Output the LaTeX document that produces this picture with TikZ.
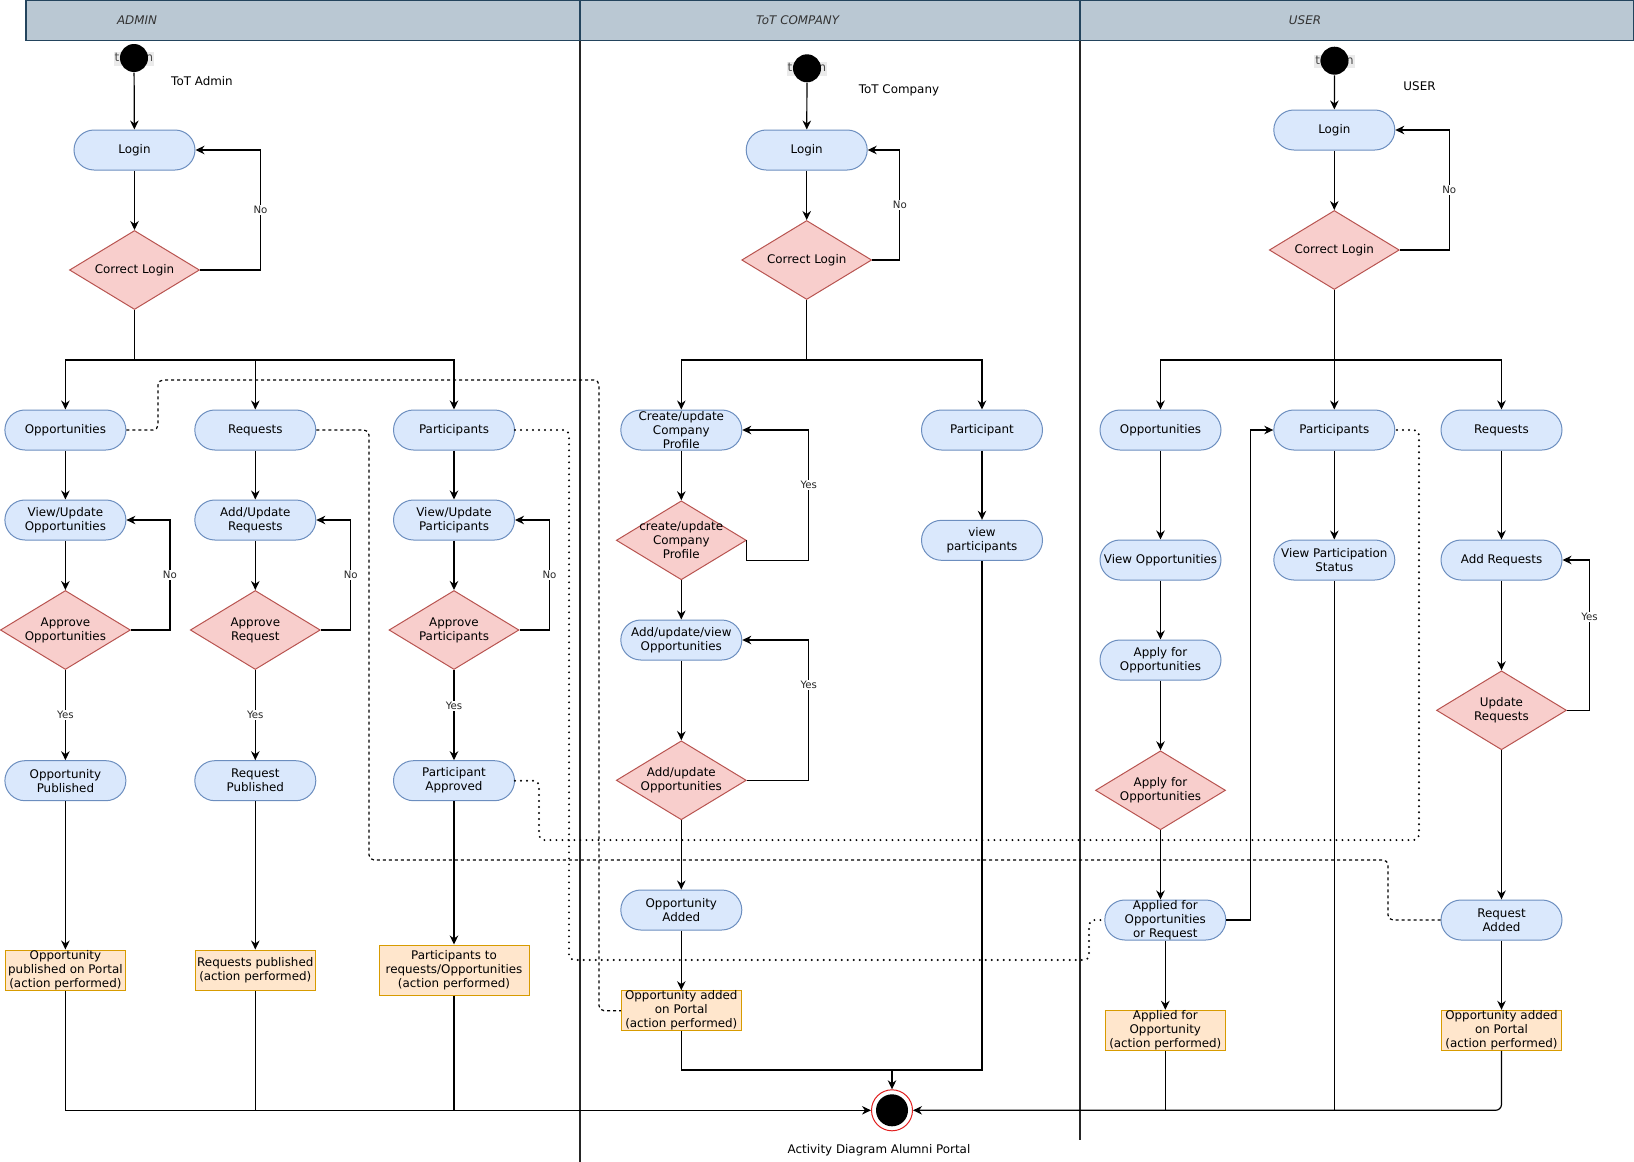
\documentclass[tikz,border=0pt]{standalone}
\usepackage{fontspec}
\setmainfont{DejaVu Sans}
\usepackage{tikz}
\usetikzlibrary{arrows.meta,shapes.geometric}
\definecolor{pillfill}{RGB}{218,232,252}
\definecolor{pilledge}{RGB}{108,142,191}
\definecolor{decfill}{RGB}{248,206,204}
\definecolor{decedge}{RGB}{184,84,80}
\definecolor{outfill}{RGB}{255,230,204}
\definecolor{outedge}{RGB}{215,155,0}
\definecolor{headfill}{RGB}{186,200,211}
\definecolor{headedge}{RGB}{35,68,93}
\definecolor{endred}{RGB}{225,30,30}
\newcommand{\flowtext}{\fontsize{11.9pt}{14pt}\selectfont}
\newcommand{\guardtext}{\fontsize{10.2pt}{12pt}\selectfont}

\begin{document}
\begin{tikzpicture}[x=1pt, y=-1pt, >={Stealth[length=9pt,width=8.5pt]}, line width=1.2pt,
    pill/.style={rectangle, rounded corners=20pt, draw=pilledge, fill=pillfill, line width=1pt,
      minimum width=121pt, minimum height=40pt, inner sep=0pt, align=center, font=\flowtext},
    decision/.style={diamond, draw=decedge, fill=decfill, line width=1pt,
      minimum width=130pt, minimum height=79pt, inner sep=0pt},
    dtext/.style={font=\flowtext, align=center, inner sep=0pt},
    outcome/.style={rectangle, draw=outedge, fill=outfill, minimum width=120pt, line width=1pt,
      minimum height=40pt, inner sep=0pt, align=center, font=\flowtext},
    initial/.style={circle, fill=black, minimum size=28pt, inner sep=0pt},
    tag/.style={fill=black!8, text=black!70, font=\flowtext, inner sep=1pt},
    final/.style={circle, draw=endred, fill=white, minimum size=41pt, inner sep=0pt, line width=1pt,
      path picture={\fill[black] (path picture bounding box.center) circle (16pt);}},
    note/.style={font=\flowtext},
    lanetitle/.style={font=\flowtext\itshape, text=black!80},
    guard/.style={font=\guardtext, fill=white, inner sep=1pt, text=black!85},
    flow/.style={->, draw=black},
    handoff/.style={draw=black, dash pattern=on 3pt off 3pt, rounded corners=5pt},
    handdot/.style={draw=black, line width=2.2pt, dash pattern=on 0pt off 6pt,
      line cap=round, rounded corners=5pt}]
    \useasboundingbox (0,0) rectangle (1634,1162);

    % lane headers and separators
    \draw[headedge, fill=headfill, line width=1.2pt] (26,0.6) rectangle (580,40.7);
    \draw[headedge, fill=headfill, line width=1.2pt] (580,0.6) rectangle (1080,40.7);
    \draw[headedge, fill=headfill, line width=1.2pt] (1080,0.6) rectangle (1633.4,40.7);
    \node[lanetitle] (hAdmin) at (137,20.5) {ADMIN};
    \node[lanetitle] (hCompany) at (797.6,20.5) {ToT COMPANY};
    \node[lanetitle] (hUser) at (1305,20.5) {USER};
    \draw[black!85] (580,40.7) -- (580,1162);
    \draw[black!85] (1080,40.7) -- (1080,1140);

    % ADMIN lane
    \node[tag] (aTag) at (134,59) {to\_ccn};
    \node[initial] (aStart) at (134,58) {};
    \node[note] (aNote) at (202,80.7) {ToT Admin};
    \node[pill] (aLogin) at (134.5,150) {Login};
    \node[decision, label={[dtext]center:Correct Login}] (aCheck) at (134.5,270) {};
    \node[pill] (aOpp) at (65.4,430) {Opportunities};
    \node[pill] (aReq) at (255.3,430) {Requests};
    \node[pill] (aPart) at (454,430) {Participants};
    \node[pill] (aViewOpp) at (65.4,520) {View/Update\\Opportunities};
    \node[pill] (aAddReq) at (255.3,520) {Add/Update\\Requests};
    \node[pill] (aViewPart) at (454,520) {View/Update\\Participants};
    \node[decision, label={[dtext]center:Approve\\Opportunities}] (aApprOpp) at (65.4,630) {};
    \node[decision, label={[dtext]center:Approve\\Request}] (aApprReq) at (255.3,630) {};
    \node[decision, label={[dtext]center:Approve\\Participants}] (aApprPart) at (454,630) {};
    \node[pill] (aOppPub) at (65.4,780.7) {Opportunity\\Published};
    \node[pill] (aReqPub) at (255.3,780.7) {Request\\Published};
    \node[pill] (aPartAppr) at (454,780.7) {Participant\\Approved};
    \node[outcome] (aOppDone) at (65.4,970) {Opportunity\\published on Portal\\(action performed)};
    \node[outcome] (aReqDone) at (255.3,970) {Requests published\\(action performed)};
    \node[outcome, minimum width=150pt, minimum height=50pt] (aPartDone) at (454,970)
      {Participants to\\requests/Opportunities\\(action performed)};

    % ToT COMPANY lane
    \node[tag] (cTag) at (807,69) {to\_ccn};
    \node[initial] (cStart) at (807,68.3) {};
    \node[note] (cNote) at (899,90.7) {ToT Company};
    \node[pill] (cLogin) at (806.7,150) {Login};
    \node[decision, label={[dtext]center:Correct Login}] (cCheck) at (806.7,260) {};
    \node[pill] (cProfile) at (681.3,430) {Create/update\\Company\\Profile};
    \node[pill] (cPart) at (982,430) {Participant};
    \node[decision, label={[dtext]center:create/update\\Company\\Profile}] (cProfChk) at (681.3,540.3) {};
    \node[pill] (cOppEdit) at (681.3,640) {Add/update/view\\Opportunities};
    \node[decision, label={[dtext]center:Add/update\\Opportunities}] (cOppChk) at (681.3,780.3) {};
    \node[pill] (cOppAdded) at (681.3,910) {Opportunity\\Added};
    \node[outcome] (cOppDone) at (681.3,1010.7) {Opportunity added\\on Portal\\(action performed)};
    \node[pill] (cViewPart) at (982,540.3) {view\\participants};

    % USER lane
    \node[tag] (uTag) at (1334.5,61.5) {to\_ccn};
    \node[initial] (uStart) at (1334.5,60.7) {};
    \node[note] (uNote) at (1419.5,85.7) {USER};
    \node[pill] (uLogin) at (1334.3,130) {Login};
    \node[decision, label={[dtext]center:Correct Login}] (uCheck) at (1334.3,250) {};
    \node[pill] (uOpp) at (1160.5,430) {Opportunities};
    \node[pill] (uPart) at (1334.3,430) {Participants};
    \node[pill] (uReq) at (1501.5,430) {Requests};
    \node[pill] (uViewOpp) at (1160.5,560) {View Opportunities};
    \node[pill] (uStatus) at (1334.3,560) {View Participation\\Status};
    \node[pill] (uAddReq) at (1501.5,560) {Add Requests};
    \node[pill] (uApply) at (1160.5,660) {Apply for\\Opportunities};
    \node[decision, label={[dtext]center:Apply for\\Opportunities}] (uApplyChk) at (1160.5,790.3) {};
    \node[decision, label={[dtext]center:Update\\Requests}] (uUpdChk) at (1501.5,710.3) {};
    \node[pill] (uApplied) at (1165.3,920) {Applied for\\Opportunities\\or Request};
    \node[pill] (uReqAdded) at (1501.5,920) {Request\\Added};
    \node[outcome] (uAppliedDone) at (1165.3,1030.3) {Applied for\\Opportunity\\(action performed)};
    \node[outcome] (uReqDone) at (1501.5,1030.3) {Opportunity added\\on Portal\\(action performed)};

    % final state
    \node[final] (eEnd) at (892,1110.3) {};
    \node[note] (eTitle) at (879,1150) {Activity Diagram Alumni Portal};

    % ADMIN flows
    \coordinate (aFork) at (134.5,360);
    \coordinate (aSink) at (65.4,1110.3);
    \draw[flow] (aStart) -- (aLogin);
    \draw[flow] (aLogin) -- (aCheck);
    \draw[flow] (aCheck.east) -- ++(60.5,0) |- node[guard,pos=.25]{No} (aLogin.east);
    \draw (aCheck) -- (aFork);
    \draw[flow] (aFork) -| (aOpp);
    \draw[flow] (aFork) -| (aReq);
    \draw[flow] (aFork) -| (aPart);
    \draw[flow] (aOpp) -- (aViewOpp);
    \draw[flow] (aReq) -- (aAddReq);
    \draw[flow] (aPart) -- (aViewPart);
    \draw[flow] (aViewOpp) -- (aApprOpp);
    \draw[flow] (aAddReq) -- (aApprReq);
    \draw[flow] (aViewPart) -- (aApprPart);
    \draw[flow] (aApprOpp.east) -- ++(39,0) |- node[guard,pos=.25]{No} (aViewOpp.east);
    \draw[flow] (aApprReq.east) -- ++(30,0) |- node[guard,pos=.25]{No} (aAddReq.east);
    \draw[flow] (aApprPart.east) -- ++(30,0) |- node[guard,pos=.25]{No} (aViewPart.east);
    \draw[flow] (aApprOpp) -- node[guard]{Yes} (aOppPub);
    \draw[flow] (aApprReq) -- node[guard]{Yes} (aReqPub);
    \draw[flow] (aApprPart) -- node[guard,pos=.4]{Yes} (aPartAppr);
    \draw[flow] (aOppPub) -- (aOppDone);
    \draw[flow] (aReqPub) -- (aReqDone);
    \draw[flow] (aPartAppr) -- (aPartDone);
    \draw[flow] (aOppDone) -- (aSink) -- (eEnd);
    \draw (aReqDone) -- (aReqDone |- aSink);
    \draw (aPartDone) -- (aPartDone |- aSink);

    % ToT COMPANY flows
    \coordinate (cFork) at (806.7,360);
    \coordinate (cJoin) at (892,1070);
    \draw[flow] (cStart) -- (cLogin);
    \draw[flow] (cLogin) -- (cCheck);
    \draw[flow] (cCheck.east) -- ++(27.6,0) |- node[guard,pos=.25]{No} (cLogin.east);
    \draw (cCheck) -- (cFork);
    \draw[flow] (cFork) -| (cProfile);
    \draw[flow] (cFork) -| (cPart);
    \draw[flow] (cProfile) -- (cProfChk);
    \draw[flow] (cProfChk.east) -- ++(0,20) -- ++(62,0) |- node[guard,pos=.29]{Yes} (cProfile.east);
    \draw[flow] (cProfChk) -- (cOppEdit);
    \draw[flow] (cOppEdit) -- (cOppChk);
    \draw[flow] (cOppChk.east) -- ++(62,0) |- node[guard,pos=.34]{Yes} (cOppEdit.east);
    \draw[flow] (cOppChk) -- (cOppAdded);
    \draw[flow] (cOppAdded) -- (cOppDone);
    \draw[flow] (cPart) -- (cViewPart);
    \draw (cOppDone) -- (cOppDone |- cJoin) -- (cViewPart.south |- cJoin) -- (cViewPart);
    \draw[flow] (cJoin) -- (eEnd);

    % USER flows
    \coordinate (uFork) at (1334.3,360);
    \draw[flow] (uStart) -- (uLogin);
    \draw[flow] (uLogin) -- (uCheck);
    \draw[flow] (uCheck.east) -- ++(49.4,0) |- node[guard,pos=.25]{No} (uLogin.east);
    \draw[flow] (uCheck) -- (uPart);
    \draw[flow] (uFork) -| (uOpp);
    \draw[flow] (uFork) -| (uReq);
    \draw[flow] (uOpp) -- (uViewOpp);
    \draw[flow] (uViewOpp) -- (uApply);
    \draw[flow] (uApply) -- (uApplyChk);
    \draw[flow] (uApplyChk.south) -- (uApplyChk.south |- uApplied.north);
    \draw[flow] (uApplied) -- (uAppliedDone);
    \draw[flow] (uApplied.east) -- ++(24.5,0) |- (uPart.west);
    \draw[flow] (uPart) -- (uStatus);
    \draw[flow] (uReq) -- (uAddReq);
    \draw[flow] (uAddReq) -- (uUpdChk);
    \draw[flow] (uUpdChk.east) -- ++(22.5,0) |- node[guard,pos=.31]{Yes} (uAddReq.east);
    \draw[flow] (uUpdChk) -- (uReqAdded);
    \draw[flow] (uReqAdded) -- (uReqDone);
    \draw[flow, rounded corners=6pt] (uReqDone) -- (uReqDone |- eEnd) -- (eEnd);
    \draw (uAppliedDone) -- (uAppliedDone |- eEnd);
    \draw (uStatus) -- (uStatus |- eEnd);

    % cross-lane links (dashed and dotted)
    \draw[handoff] (aOpp.east) -- ++(31.6,0) |- (599,380) |- (cOppDone.west);
    \draw[handoff] (aReq.east) -- ++(52.7,0) |- (1388,860) |- (uReqAdded.west);
    \draw[handdot] (aPart.east) -- ++(54,0) |- (1089,960) |- (uApplied.west);
    \draw[handdot] (aPartAppr.east) -- ++(24,0) |- (1419,840) |- (uPart.east);
\end{tikzpicture}
\end{document}
